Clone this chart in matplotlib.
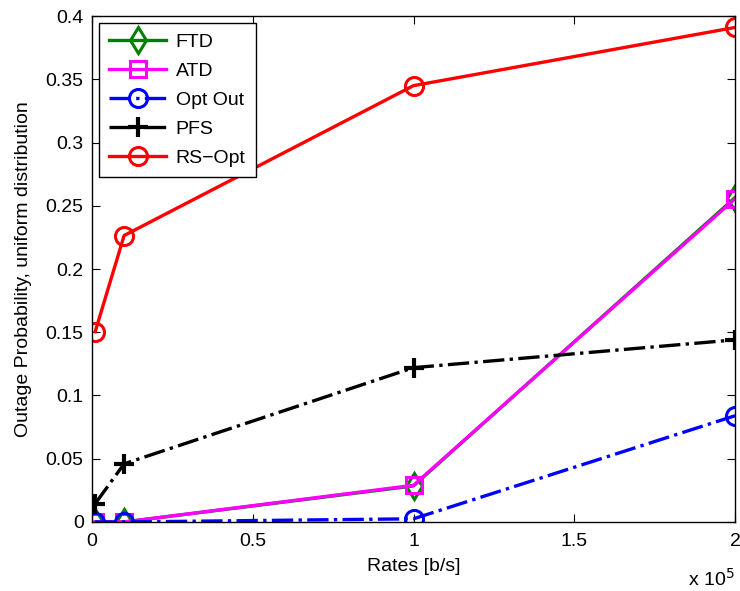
import numpy as np
import matplotlib
matplotlib.use('Agg')
from matplotlib import pyplot as plt
from matplotlib.ticker import FuncFormatter

plt.rcParams['font.family'] = ['Liberation Sans', 'DejaVu Sans']

# data
rates = [1000, 10000, 100000, 200000]
ftd = [0.0, 0.0, 0.0285, 0.2565]
atd = [0.0, 0.0, 0.0290, 0.2555]
opt_out = [0.0, 0.0, 0.0025, 0.0840]
pfs = [0.0145, 0.0460, 0.1220, 0.1440]
rs_opt = [0.1505, 0.2265, 0.3450, 0.3910]

x_ticks = [0, 50000, 100000, 150000, 200000]
x_ticklabels = ['0', '0.5', '1', '1.5', '2']
y_ticks = [0, 0.05, 0.1, 0.15, 0.2, 0.25, 0.3, 0.35, 0.4]

fig = plt.figure(figsize=(7.4, 5.91), dpi=100)
ax = fig.add_axes([0.1243, 0.1168, 0.869, 0.856])

lw = 2.4
ms = 13
mew = 2.2
ax.plot(rates, ftd, '-', color='green', lw=lw, marker='d', ms=ms, mfc='none', mew=mew, label='FTD')
ax.plot(rates, atd, '-', color='magenta', lw=lw, marker='s', ms=ms - 2, mfc='none', mew=mew, label='ATD')
ax.plot(rates, opt_out, '-.', color='blue', lw=lw, marker='o', ms=ms, mfc='none', mew=mew, label='Opt Out')
ax.plot(rates, pfs, '-.', color='black', lw=lw, marker='+', ms=ms + 2, mew=3, label='PFS')
ax.plot(rates, rs_opt, '-', color='red', lw=lw, marker='o', ms=ms, mfc='none', mew=mew, label='RS\u2212Opt')

ax.set_xlim(0, 200000)
ax.set_ylim(0, 0.4)
ax.set_xticks(x_ticks)
ax.set_xticklabels(x_ticklabels)
ax.set_yticks(y_ticks)
ax.yaxis.set_major_formatter(FuncFormatter(lambda v, p: '%g' % round(v, 3)))
ax.tick_params(direction='in', top=True, right=True, labelsize=14, length=6, pad=8)
ax.tick_params(axis='y', pad=6)
for s in ax.spines.values():
    s.set_linewidth(1.0)

ax.set_xlabel('Rates [b/s]', fontsize=14, labelpad=6)
ax.set_ylabel('Outage Probability, uniform distribution', fontsize=14, labelpad=10)
ax.text(1.0, -0.09, 'x 10$^5$', transform=ax.transAxes, ha='right', va='top', fontsize=14)

leg = ax.legend(loc='upper left', fontsize=14, fancybox=False, framealpha=1,
                edgecolor='black', handlelength=2.9, borderaxespad=0.35, labelspacing=0.58,
                handletextpad=0.5, borderpad=0.55)
leg.get_frame().set_linewidth(1.0)

fig.savefig('out.png', dpi=100)
